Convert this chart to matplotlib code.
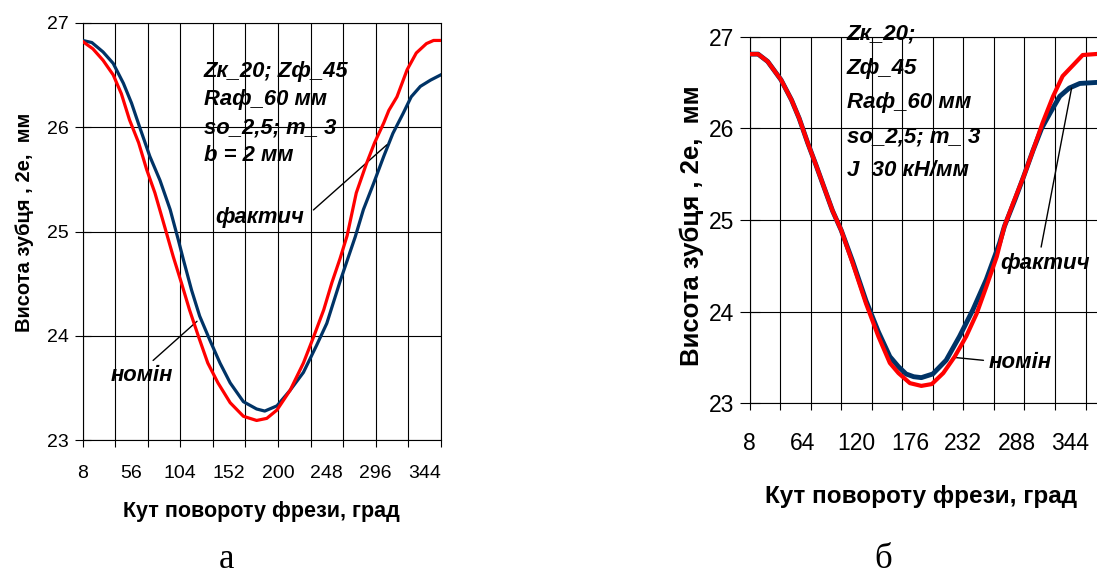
import numpy as np
import matplotlib.pyplot as plt

plt.rcParams['font.family'] = ['Liberation Sans', 'DejaVu Sans']

# графік а: кут повороту фрези, град / висота зубця, мм
a_kut_nom = [8, 18, 28, 38, 46, 54, 63, 71, 79, 87, 97, 105, 113, 122, 131, 141, 153, 166, 179, 189,
             199, 212, 225, 235, 245, 253, 261, 268, 277, 287, 295, 304, 309, 317, 327, 336, 346, 353, 360]
a_nom = [26.82, 26.75, 26.64, 26.50, 26.32, 26.07, 25.85, 25.59, 25.37, 25.10, 24.76, 24.51, 24.25, 23.99,
         23.74, 23.55, 23.36, 23.23, 23.19, 23.21, 23.29, 23.48, 23.74, 23.99, 24.25, 24.51, 24.74, 24.96,
         25.37, 25.65, 25.85, 26.04, 26.16, 26.29, 26.55, 26.71, 26.80, 26.83, 26.83]
a_kut_fact = [8, 17, 28, 38, 48, 56, 64, 74, 84, 94, 102, 107, 115, 123, 133, 143, 153, 166, 179, 187,
              199, 212, 225, 238, 248, 261, 276, 284, 294, 304, 313, 323, 331, 340, 350, 360]
a_fact = [26.83, 26.81, 26.72, 26.61, 26.42, 26.23, 26.00, 25.72, 25.49, 25.21, 24.92, 24.73, 24.44, 24.19,
          23.96, 23.74, 23.55, 23.37, 23.30, 23.28, 23.33, 23.48, 23.65, 23.91, 24.12, 24.52, 24.95, 25.21,
          25.46, 25.72, 25.94, 26.13, 26.29, 26.39, 26.45, 26.50]

# графік б
b_kut_nom = [8, 17, 27, 41, 52, 60, 69, 78, 87, 95, 104, 116, 130, 143, 155, 164, 176, 188, 199, 211,
             223, 235, 246, 256, 267, 275, 284, 295, 305, 315, 326, 336, 347, 357, 370]
b_nom = [26.81, 26.81, 26.73, 26.53, 26.31, 26.11, 25.84, 25.59, 25.33, 25.10, 24.89, 24.53, 24.09, 23.73,
         23.44, 23.33, 23.22, 23.19, 23.21, 23.33, 23.51, 23.73, 23.98, 24.27, 24.60, 24.93, 25.18, 25.47,
         25.76, 26.06, 26.35, 26.57, 26.69, 26.80, 26.81]
b_kut_fact = [8, 17, 27, 41, 52, 60, 69, 78, 87, 95, 104, 116, 130, 143, 155, 164, 172, 180, 188, 200,
              214, 228, 242, 256, 270, 275, 286, 295, 305, 314, 323, 333, 343, 354, 370]
b_fact = [26.81, 26.81, 26.73, 26.53, 26.31, 26.11, 25.84, 25.59, 25.33, 25.10, 24.89, 24.55, 24.12, 23.78,
          23.51, 23.40, 23.32, 23.29, 23.28, 23.32, 23.47, 23.73, 24.02, 24.35, 24.75, 24.93, 25.22, 25.47,
          25.76, 26.00, 26.17, 26.35, 26.44, 26.49, 26.50]

a_xlabels = [8, 56, 104, 152, 200, 248, 296, 344]
b_xlabels = [8, 64, 120, 176, 232, 288, 344]
y_ticks = [23, 24, 25, 26, 27]

a_params = 'Zк_20; Zф_45\nRaф_60 мм\nso_2,5; m_ 3\nb = 2 мм'
b_params = 'Zк_20;\nZф_45\nRaф_60 мм\nso_2,5; m_ 3\nJ  30 кН/мм'
ylabel = 'Висота зубця , 2е,  мм'
xlabel = 'Кут повороту фрези, град'

red = '#FF0000'
blue = '#003366'

W, H = 1097, 576
fig = plt.figure(figsize=(W / 100, H / 100), dpi=100)


def box(l, r, t, b):
    return [l / W, 1 - b / H, (r - l) / W, (b - t) / H]


def setup(ax, labels, xmax, fs, ylen, xpad):
    ax.set_xlim(8, xmax)
    ax.set_ylim(23, 27)
    ax.xaxis.remove_overlapping_locs = False
    ax.set_xticks(np.arange(8, 361, 32), minor=True)
    ax.set_xticks(labels, [str(v) for v in labels])
    ax.set_yticks(y_ticks, [str(v) for v in y_ticks])
    ax.tick_params(axis='x', which='major', length=0, pad=xpad, labelsize=fs)
    ax.tick_params(axis='x', which='minor', length=5, width=0.8, direction='out')
    ax.tick_params(axis='y', length=ylen, width=0.8, direction='inout', pad=4, labelsize=fs)
    ax.grid(True, which='minor', axis='x', color='black', lw=0.8)
    ax.grid(True, which='major', axis='y', color='black', lw=0.8)
    for s in ax.spines.values():
        s.set_linewidth(0.8)
        s.set_color('black')


# а
ax1 = fig.add_axes(box(82.7, 440.7, 22.7, 440.3))
setup(ax1, a_xlabels, 360, 14, 12, 18)
ax1.plot(a_kut_fact, a_fact, color=blue, lw=2.3, zorder=3)
ax1.plot(a_kut_nom, a_nom, color=red, lw=2.3, zorder=4)
ax1.text(127, 26.13, a_params, fontsize=15.8, fontweight='bold', fontstyle='italic',
         va='center', ha='left', linespacing=1.45)
ax1.annotate('фактич', xy=(307, 25.83), xytext=(226, 25.13), fontsize=15.8, fontweight='bold',
             fontstyle='italic', ha='right', va='center',
             arrowprops=dict(arrowstyle='-', lw=1, color='black', relpos=(1, 0.5), shrinkA=6, shrinkB=0))
ax1.annotate('номін', xy=(120.4, 24.14), xytext=(66, 23.62), fontsize=15.8, fontweight='bold',
             fontstyle='italic', ha='center', va='center',
             arrowprops=dict(arrowstyle='-', lw=1, color='black', relpos=(0.6, 1), shrinkA=2, shrinkB=0))
fig.text(261 / W, 1 - 512 / H, xlabel, fontsize=15.5, fontweight='bold', ha='center', va='center')
fig.text(25 / W, 1 - 222 / H, ylabel, fontsize=14.5, fontweight='bold',
         ha='center', va='center', rotation=90)

# б
ax2 = fig.add_axes(box(749.5, 1097, 36.7, 403.3))
setup(ax2, b_xlabels, 372, 16.5, 14, 21)
ax2.spines['right'].set_visible(False)
ax2.plot(b_kut_fact, b_fact, color=blue, lw=3.5, zorder=3)
ax2.plot(b_kut_nom, b_nom, color=red, lw=3.0, zorder=4)
ax2.text(110, 26.28, b_params, fontsize=16, fontweight='bold', fontstyle='italic',
         va='center', ha='left', linespacing=1.82)
ax2.annotate('фактич', xy=(345.4, 26.44), xytext=(318, 24.53), fontsize=16, fontweight='bold',
             fontstyle='italic', ha='center', va='center',
             arrowprops=dict(arrowstyle='-', lw=1, color='black', relpos=(0.44, 1), shrinkA=2, shrinkB=0))
ax2.annotate('номін', xy=(223, 23.50), xytext=(292, 23.44), fontsize=16, fontweight='bold',
             fontstyle='italic', ha='center', va='center',
             arrowprops=dict(arrowstyle='-', lw=1, color='black', relpos=(0, 0.6), shrinkA=2, shrinkB=0))
fig.text(921 / W, 1 - 497 / H, xlabel, fontsize=17.5, fontweight='bold', ha='center', va='center')
fig.text(692 / W, 1 - 226 / H, ylabel, fontsize=18.5, fontweight='bold',
         ha='center', va='center', rotation=90)

fig.text(226.7 / W, 1 - 568 / H, 'а', fontsize=25, family='Liberation Serif', ha='center', va='baseline')
fig.text(883.3 / W, 1 - 568 / H, 'б', fontsize=25, family='Liberation Serif', ha='center', va='baseline')

fig.savefig('out.png', dpi=100)
